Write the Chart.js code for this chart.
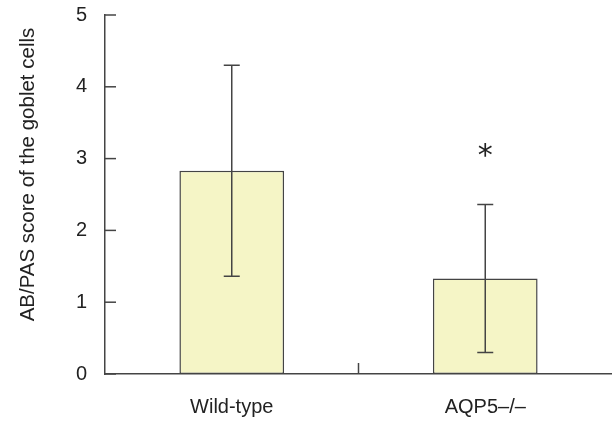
<!DOCTYPE html>
<html>
<head>
<meta charset="utf-8">
<script src="https://cdn.jsdelivr.net/npm/chart.js@4"></script>
<style>
  body { margin: 0; background: #fff; }
  #wrap { width: 612px; height: 422px; }
</style>
</head>
<body>
<div id="wrap"><canvas id="chart1"></canvas></div>
<script>
const groups = ["Wild-type", "AQP5\u2013/\u2013"];
const scores = [2.83, 1.33];
const errors = [1.47, 1.03];
const marks = ["", "*"];
const yTicks = [0, 1, 2, 3, 4, 5];
const yTitle = "AB/PAS score of the goblet cells";

const lineColor = "#444";
const textColor = "#222";

// error bars, inward ticks and the asterisk
const extras = {
  id: "extras",
  afterDatasetsDraw(chart) {
    const ctx = chart.ctx;
    const x = chart.scales.x;
    const y = chart.scales.y;
    const area = chart.chartArea;
    ctx.save();
    ctx.strokeStyle = lineColor;
    ctx.lineWidth = 1.5;
    for (let i = 0; i < scores.length; i++) {
      let px = x.getPixelForValue(i);
      let top = y.getPixelForValue(scores[i] + errors[i]);
      let bot = y.getPixelForValue(scores[i] - errors[i]);
      ctx.beginPath();
      ctx.moveTo(px, top); ctx.lineTo(px, bot);
      ctx.moveTo(px - 8, top); ctx.lineTo(px + 8, top);
      ctx.moveTo(px - 8, bot); ctx.lineTo(px + 8, bot);
      ctx.stroke();
      if (marks[i]) {
        ctx.fillStyle = textColor;
        ctx.font = "30px 'DejaVu Sans', sans-serif";
        ctx.textAlign = "center";
        ctx.textBaseline = "alphabetic";
        ctx.fillText(marks[i], px, top - 40);
      }
    }
    // y ticks pointing into the plot
    for (let v of yTicks) {
      let py = y.getPixelForValue(v);
      ctx.beginPath();
      ctx.moveTo(area.left, py); ctx.lineTo(area.left + 11, py);
      ctx.stroke();
    }
    // small tick between the groups
    let mid = (x.getPixelForValue(0) + x.getPixelForValue(1)) / 2;
    ctx.beginPath();
    ctx.moveTo(mid, area.bottom); ctx.lineTo(mid, area.bottom - 11);
    ctx.stroke();
    ctx.restore();
  }
};

const ctx = document.getElementById("chart1").getContext("2d");
const myChart = new Chart(ctx, {
  type: "bar",
  data: {
    labels: groups,
    datasets: [{
      data: scores,
      backgroundColor: "#f5f5c6",
      borderColor: lineColor,
      borderWidth: 1.5,
      borderSkipped: false,
      barPercentage: 0.413,
      categoryPercentage: 1
    }]
  },
  options: {
    responsive: true,
    maintainAspectRatio: false,
    animation: false,
    layout: { padding: { top: 0, right: 0, bottom: 0, left: 0 } },
    plugins: {
      legend: { display: false },
      tooltip: { enabled: false }
    },
    scales: {
      x: {
        afterFit(scale) { scale.height = 48; },
        grid: { display: false, drawTicks: false },
        border: { display: true, color: lineColor, width: 1.5 },
        ticks: {
          color: textColor,
          padding: 21,
          font: { family: "'Liberation Sans', Arial, sans-serif", size: 20 }
        }
      },
      y: {
        min: 0,
        max: 5,
        afterFit(scale) {
          scale.width = 105;
          scale.paddingTop = 15;
          scale.paddingBottom = 12;
        },
        grid: { display: false, drawTicks: false },
        border: { display: true, color: lineColor, width: 1.5 },
        ticks: {
          stepSize: 1,
          color: textColor,
          padding: 18,
          font: { family: "'Liberation Sans', Arial, sans-serif", size: 20 }
        },
        title: {
          display: true,
          // leading spaces nudge the title up the axis like the original
          text: "       " + yTitle,
          color: textColor,
          padding: { top: 16, bottom: 0 },
          font: { family: "'Liberation Sans', Arial, sans-serif", size: 20.5 }
        }
      }
    }
  },
  plugins: [extras]
});
</script>
</body>
</html>
